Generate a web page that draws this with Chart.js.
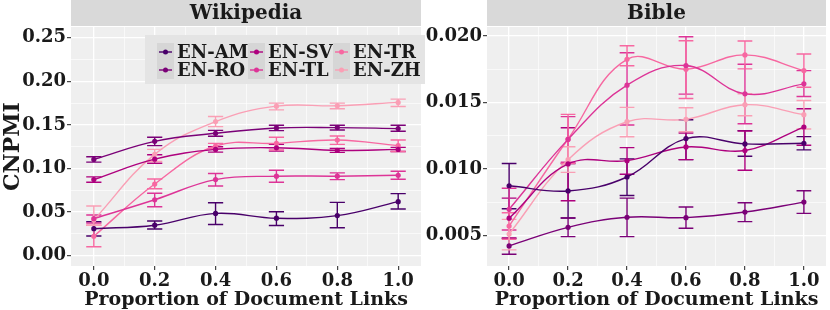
<!DOCTYPE html>
<html>
<head>
<meta charset="utf-8">
<script src="https://cdn.jsdelivr.net/npm/chart.js@4.4.1/dist/chart.umd.min.js"></script>
<style>
  html, body { margin: 0; padding: 0; background: #ffffff; }
  #wrap { position: relative; width: 830px; height: 310px; overflow: hidden; }
  canvas { position: absolute; top: 0; }
  #wiki { left: 0; }
  #bible { left: 415px; }
</style>
</head>
<body>
<div id="wrap">
  <canvas id="bible" width="415" height="310"></canvas>
  <canvas id="wiki" width="425" height="310"></canvas>
</div>
<script>
const languages = ["EN-AM", "EN-RO", "EN-SV", "EN-TL", "EN-TR", "EN-ZH"];
const colors = ["#49006a", "#7a0177", "#ae017e", "#dd3497", "#f768a1", "#fa9fb5"];
const linkProportions = [0, 0.2, 0.4, 0.6, 0.8, 1.0];
const xTicks = [0, 0.2, 0.4, 0.6, 0.8, 1.0];
const wikiTicks = [0, 0.05, 0.10, 0.15, 0.20, 0.25];
const bibleTicks = [0.005, 0.010, 0.015, 0.020];

// one row per language, one column per link proportion
const wikiValues = [
  [0.031, 0.035, 0.0485, 0.043, 0.046, 0.062],
  [0.1104, 0.1312, 0.1404, 0.1465, 0.1469, 0.1458],
  [0.0873, 0.1107, 0.1219, 0.1238, 0.1208, 0.1219],
  [0.0425, 0.0642, 0.0873, 0.0912, 0.0912, 0.0923],
  [0.0223, 0.0822, 0.1258, 0.1288, 0.1327, 0.1262],
  [0.041, 0.1162, 0.1538, 0.1715, 0.1719, 0.1758],
];
const wikiLow = [
  [0.0226, 0.0306, 0.0358, 0.0346, 0.032, 0.0535],
  [0.1073, 0.1262, 0.137, 0.1435, 0.1442, 0.1427],
  [0.0842, 0.106, 0.1188, 0.12, 0.1185, 0.1195],
  [0.0375, 0.0562, 0.08, 0.0842, 0.0873, 0.0877],
  [0.0103, 0.0768, 0.1227, 0.1212, 0.1277, 0.1196],
  [0.035, 0.108, 0.148, 0.1673, 0.1685, 0.1712],
];
const wikiHigh = [
  [0.039, 0.0398, 0.0608, 0.0504, 0.0612, 0.0712],
  [0.1135, 0.1358, 0.1438, 0.1496, 0.1496, 0.1496],
  [0.0904, 0.1158, 0.125, 0.1277, 0.123, 0.1243],
  [0.0467, 0.0716, 0.0942, 0.098, 0.095, 0.0969],
  [0.035, 0.088, 0.1288, 0.1358, 0.1373, 0.1327],
  [0.057, 0.122, 0.1596, 0.175, 0.175, 0.1796],
];

const bibleValues = [
  [0.00873, 0.00834, 0.00939, 0.01228, 0.01188, 0.01193],
  [0.0042, 0.0056, 0.00636, 0.00633, 0.00675, 0.0075],
  [0.00629, 0.01037, 0.01062, 0.01165, 0.01138, 0.01315],
  [0.00696, 0.01222, 0.0163, 0.01778, 0.01565, 0.0164],
  [0.0057, 0.01225, 0.01825, 0.0175, 0.01858, 0.0174],
  [0.0051, 0.01069, 0.01355, 0.01373, 0.01483, 0.01408],
];
const bibleLow = [
  [0.0070, 0.0063, 0.0080, 0.0107, 0.01095, 0.01143],
  [0.00358, 0.0049, 0.0049, 0.00553, 0.00603, 0.00665],
  [0.0048, 0.0076, 0.0096, 0.0107, 0.0099, 0.01178],
  [0.0054, 0.0105, 0.0133, 0.01563, 0.0134, 0.01545],
  [0.0047, 0.0104, 0.01776, 0.0153, 0.01753, 0.01615],
  [0.0039, 0.00974, 0.01242, 0.0128, 0.0140, 0.0130],
];
const bibleHigh = [
  [0.0104, 0.0104, 0.01075, 0.0137, 0.01288, 0.01243],
  [0.00477, 0.0063, 0.0078, 0.00713, 0.00745, 0.00835],
  [0.0078, 0.0131, 0.0116, 0.0127, 0.01285, 0.01453],
  [0.00854, 0.01393, 0.01874, 0.01995, 0.01788, 0.0174],
  [0.0067, 0.0141, 0.01927, 0.01965, 0.01963, 0.01865],
  [0.0062, 0.01167, 0.01463, 0.0146, 0.01565, 0.01515],
];

const FONT = "DejaVu Serif";
const TEXT = "#1a1a1a";
const PANEL_BG = "#efefef";
const STRIP_BG = "#d9d9d9";
const CAP_HALF = 0.025;

Chart.defaults.font.family = FONT;
Chart.defaults.font.weight = "bold";
Chart.defaults.color = TEXT;

function withMinors(major) {
  const all = [];
  major.forEach((v, i) => {
    all.push({ value: v, major: true });
    if (i < major.length - 1) {
      all.push({ value: (v + major[i + 1]) / 2, major: false });
    }
  });
  return all;
}

function isMajor(list, v) {
  return list.some((m) => Math.abs(m - v) < 1e-9);
}

const panelPlugin = {
  id: "panel",
  beforeDraw(chart, args, opts) {
    const { ctx, chartArea: a } = chart;
    ctx.save();
    ctx.fillStyle = PANEL_BG;
    ctx.fillRect(a.left, a.top, a.right - a.left, a.bottom - a.top);
    ctx.fillStyle = STRIP_BG;
    ctx.fillRect(a.left, 0, a.right - a.left, a.top - 1);
    ctx.fillStyle = TEXT;
    ctx.font = "bold 20px '" + FONT + "'";
    ctx.textAlign = "center";
    ctx.textBaseline = "middle";
    ctx.fillText(opts.title, (a.left + a.right) / 2, 14);
    ctx.restore();
  },
};

const errorBarPlugin = {
  id: "errorBars",
  beforeDatasetsDraw(chart, args, opts) {
    const { ctx, scales } = chart;
    const x = scales.x;
    const y = scales.y;
    ctx.save();
    ctx.lineWidth = 1.4;
    opts.low.forEach((row, i) => {
      ctx.strokeStyle = colors[i];
      row.forEach((lo, j) => {
        const hi = opts.high[i][j];
        const px = x.getPixelForValue(linkProportions[j]);
        const x0 = x.getPixelForValue(linkProportions[j] - CAP_HALF);
        const x1 = x.getPixelForValue(linkProportions[j] + CAP_HALF);
        const y0 = y.getPixelForValue(lo);
        const y1 = y.getPixelForValue(hi);
        ctx.beginPath();
        ctx.moveTo(px, y0);
        ctx.lineTo(px, y1);
        ctx.moveTo(x0, y0);
        ctx.lineTo(x1, y0);
        ctx.moveTo(x0, y1);
        ctx.lineTo(x1, y1);
        ctx.stroke();
      });
    });
    ctx.restore();
  },
};

const keyLegendPlugin = {
  id: "keyLegend",
  afterDraw(chart, args, opts) {
    if (!opts.show) {
      return;
    }
    const { ctx } = chart;
    const colX = [157, 248, 333];
    const rowY = [43, 61];
    ctx.save();
    ctx.fillStyle = "#e4e4e4";
    ctx.fillRect(145, 35, 280, 49);
    ctx.font = "bold 18px '" + FONT + "'";
    ctx.textBaseline = "middle";
    ctx.textAlign = "left";
    languages.forEach((lang, i) => {
      const kx = colX[Math.floor(i / 2)];
      const ky = rowY[i % 2];
      ctx.fillStyle = "#d6d6d6";
      ctx.fillRect(kx, ky, 17, 18);
      ctx.strokeStyle = colors[i];
      ctx.lineWidth = 1.4;
      ctx.beginPath();
      ctx.moveTo(kx + 2, ky + 9);
      ctx.lineTo(kx + 15, ky + 9);
      ctx.stroke();
      ctx.fillStyle = colors[i];
      ctx.beginPath();
      ctx.arc(kx + 8.5, ky + 9, 2.5, 0, Math.PI * 2);
      ctx.fill();
      ctx.fillStyle = TEXT;
      ctx.fillText(lang, kx + 20, ky + 10);
    });
    ctx.restore();
  },
};

function buildDatasets(values) {
  return languages.map((lang, i) => ({
    label: lang,
    data: linkProportions.map((p, j) => ({ x: p, y: values[i][j] })),
    borderColor: colors[i],
    backgroundColor: colors[i],
    borderWidth: 1.4,
    pointRadius: 2.6,
    pointBorderWidth: 0,
    tension: 0.4,
  }));
}

function makeChart(canvasId, opts) {
  const xAll = withMinors(xTicks);
  const yAll = withMinors(opts.yTicks);
  return new Chart(document.getElementById(canvasId), {
    type: "line",
    data: { datasets: buildDatasets(opts.values) },
    options: {
      responsive: false,
      animation: false,
      devicePixelRatio: 1,
      layout: { padding: { top: 27, right: 0, bottom: 0, left: 0 } },
      plugins: {
        legend: { display: false },
        tooltip: { enabled: false },
        panel: { title: opts.title },
        errorBars: { low: opts.low, high: opts.high },
        keyLegend: { show: opts.showLegend },
      },
      scales: {
        x: {
          type: "linear",
          min: -0.075,
          max: 1.075,
          afterBuildTicks: (scale) => {
            scale.ticks = xAll.map((t) => ({ value: t.value }));
          },
          afterFit: (scale) => {
            scale.height = 44;
          },
          border: { display: false },
          grid: {
            color: "#ffffff",
            lineWidth: (c) => (c.tick && isMajor(xTicks, c.tick.value) ? 1.3 : 0.6),
            tickLength: 4,
            tickWidth: 1.1,
            tickColor: (c) => (c.tick && isMajor(xTicks, c.tick.value) ? "#333333" : "rgba(0,0,0,0)"),
          },
          ticks: {
            autoSkip: false,
            maxRotation: 0,
            padding: 2,
            font: { size: 18, lineHeight: 1 },
            callback: (v) => (isMajor(xTicks, v) ? v.toFixed(1) : ""),
          },
          title: {
            display: true,
            text: "Proportion of Document Links",
            font: { size: 19 },
            padding: { top: 0, bottom: -1 },
          },
        },
        y: {
          type: "linear",
          min: opts.yMin,
          max: opts.yMax,
          afterBuildTicks: (scale) => {
            scale.ticks = yAll.map((t) => ({ value: t.value }));
          },
          afterFit: (scale) => {
            scale.width = opts.yWidth;
          },
          border: { display: false },
          grid: {
            color: "#ffffff",
            lineWidth: (c) => (c.tick && isMajor(opts.yTicks, c.tick.value) ? 1.3 : 0.6),
            tickLength: 4,
            tickWidth: 1.1,
            tickColor: (c) => (c.tick && isMajor(opts.yTicks, c.tick.value) ? "#333333" : "rgba(0,0,0,0)"),
          },
          ticks: {
            autoSkip: false,
            padding: 1,
            font: { size: 18 },
            callback: (v) => (isMajor(opts.yTicks, v) ? v.toFixed(opts.digits) : ""),
          },
          title: {
            display: opts.yTitle !== "",
            text: opts.yTitle,
            font: { size: 22 },
            padding: { top: 0, bottom: 0 },
          },
        },
      },
    },
    plugins: [panelPlugin, errorBarPlugin, keyLegendPlugin],
  });
}

makeChart("wiki", {
  title: "Wikipedia",
  values: wikiValues,
  low: wikiLow,
  high: wikiHigh,
  yTicks: wikiTicks,
  yMin: -0.0118,
  yMax: 0.2623,
  yWidth: 71,
  digits: 2,
  yTitle: "CNPMI",
  showLegend: true,
});

makeChart("bible", {
  title: "Bible",
  values: bibleValues,
  low: bibleLow,
  high: bibleHigh,
  yTicks: bibleTicks,
  yMin: 0.00269,
  yMax: 0.02068,
  yWidth: 72,
  digits: 3,
  yTitle: "",
  showLegend: false,
});
</script>
</body>
</html>
